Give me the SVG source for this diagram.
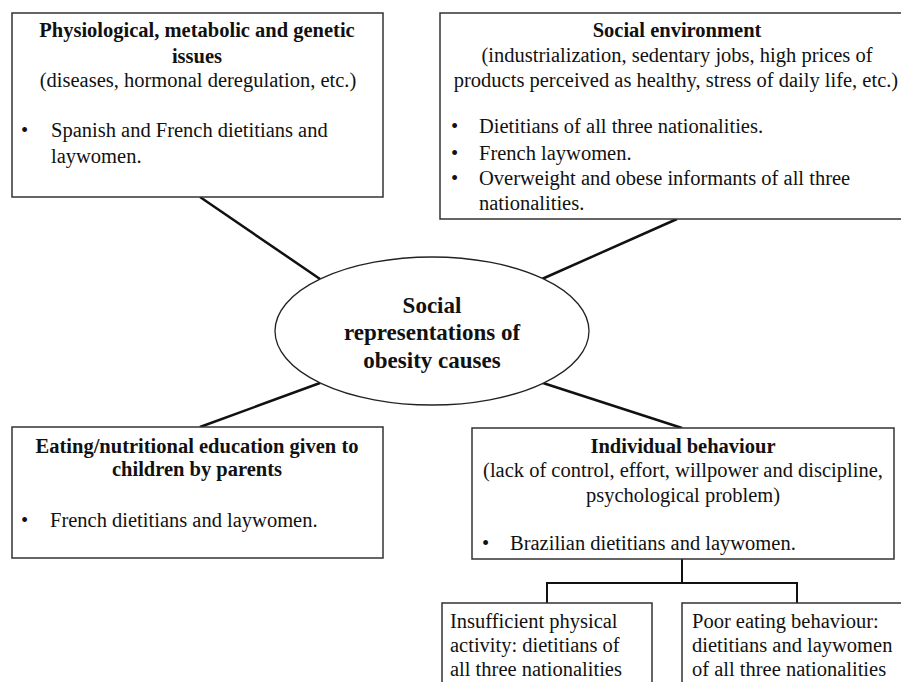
<svg xmlns="http://www.w3.org/2000/svg" width="901" height="682" viewBox="0 0 901 682">
<style>
.box{fill:#fff;stroke:#333;stroke-width:1.5}
.ell{fill:#fff;stroke:#222;stroke-width:1.3}
.con{stroke:#111;stroke-width:2.5;fill:none}
.tree{stroke:#111;stroke-width:2;fill:none}
text{font-family:"Liberation Serif","Times New Roman",serif;font-size:20.5px;fill:#111}
.b{font-weight:bold}
.c{text-anchor:middle}
.e{font-size:23px;font-weight:bold;text-anchor:middle}
</style>
<rect width="901" height="682" fill="#fff"/>
<g id="connectors">
<line class="con" x1="200" y1="197" x2="320" y2="279"/>
<line class="con" x1="677" y1="219" x2="542" y2="279"/>
<line class="con" x1="320" y1="383" x2="200" y2="427"/>
<line class="con" x1="543" y1="383" x2="682" y2="428"/>
<polyline class="tree" points="682,559 682,583"/>
<polyline class="tree" points="547,603 547,583 797,583 797,603"/>
</g>
<g id="node-physiological">
<rect class="box" x="12" y="13" width="371" height="184"/>
<text class="b c" x="197" y="37">Physiological, metabolic and genetic</text>
<text class="b c" x="197" y="63">issues</text>
<text class="c" x="198" y="87">(diseases, hormonal deregulation, etc.)</text>
<text x="21" y="137">•</text>
<text x="51" y="137">Spanish and French dietitians and</text>
<text x="51" y="163">laywomen.</text>
</g>
<g id="node-social-environment">
<rect class="box" x="440" y="13" width="480" height="206"/>
<text class="b c" x="677" y="37">Social environment</text>
<text class="c" x="677" y="62">(industrialization, sedentary jobs, high prices of</text>
<text class="c" x="676" y="87">products perceived as healthy, stress of daily life, etc.)</text>
<text x="451" y="133">•</text>
<text x="479" y="133">Dietitians of all three nationalities.</text>
<text x="451" y="160">•</text>
<text x="479" y="160">French laywomen.</text>
<text x="451" y="185">•</text>
<text x="479" y="185">Overweight and obese informants of all three</text>
<text x="479" y="210">nationalities.</text>
</g>
<g id="node-center">
<ellipse class="ell" cx="432" cy="331" rx="157" ry="74"/>
<text class="e" x="432" y="313">Social</text>
<text class="e" x="432" y="340">representations of</text>
<text class="e" x="432" y="368">obesity causes</text>
</g>
<g id="node-education">
<rect class="box" x="12" y="427" width="371" height="131"/>
<text class="b c" x="197" y="453">Eating/nutritional education given to</text>
<text class="b c" x="197" y="476">children by parents</text>
<text x="21" y="527">•</text>
<text x="50" y="527">French dietitians and laywomen.</text>
</g>
<g id="node-individual">
<rect class="box" x="472" y="428" width="422" height="131"/>
<text class="b c" x="683" y="453">Individual behaviour</text>
<text class="c" x="683" y="477">(lack of control, effort, willpower and discipline,</text>
<text class="c" x="683" y="502">psychological problem)</text>
<text x="482" y="550">•</text>
<text x="510" y="550">Brazilian dietitians and laywomen.</text>
</g>
<g id="node-physical">
<rect class="box" x="442" y="603" width="210" height="100"/>
<text x="450" y="628">Insufficient physical</text>
<text x="450" y="652">activity: dietitians of</text>
<text x="450" y="676">all three nationalities</text>
</g>
<g id="node-eating">
<rect class="box" x="682" y="603" width="240" height="100"/>
<text x="692" y="628">Poor eating behaviour:</text>
<text x="692" y="652">dietitians and laywomen</text>
<text x="692" y="676">of all three nationalities</text>
</g>
</svg>
